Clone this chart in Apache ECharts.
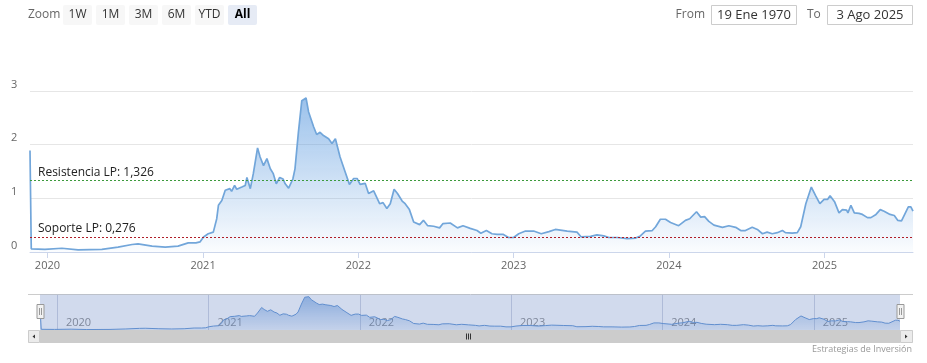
<!DOCTYPE html>
<html><head><meta charset="utf-8">
<script src="https://cdn.jsdelivr.net/npm/echarts@6/dist/echarts.min.js"></script>
<style>html,body{margin:0;padding:0;background:#fff}#c{width:927px;height:363px}</style>
</head><body><div id="c"></div>
<script>
const dates = [
'2019-11-21','2019-11-24','2019-12-26','2020-02-04','2020-03-13','2020-05-08','2020-06-15','2020-07-18','2020-08-01','2020-09-03','2020-10-04','2020-11-03','2020-11-27','2020-12-15',
'2020-12-25','2021-01-02','2021-01-13','2021-01-25','2021-02-02','2021-02-06','2021-02-14','2021-02-22','2021-03-05','2021-03-09','2021-03-16','2021-03-21','2021-04-02','2021-04-10','2021-04-14','2021-04-22','2021-04-29','2021-05-09','2021-05-15','2021-05-23','2021-05-31','2021-06-08','2021-06-15','2021-06-22','2021-06-30','2021-07-08','2021-07-13','2021-07-21','2021-07-31','2021-08-05','2021-08-13','2021-08-21','2021-08-31','2021-09-06','2021-09-18','2021-09-25','2021-10-03','2021-10-11','2021-10-23','2021-10-31','2021-11-08','2021-11-19','2021-12-01','2021-12-11','2021-12-21','2021-12-29','2022-01-05','2022-01-17','2022-01-25',
'2022-02-06','2022-02-20','2022-02-28','2022-03-09','2022-03-17','2022-03-26','2022-04-03','2022-04-14','2022-04-21','2022-05-01','2022-05-11','2022-05-25','2022-06-03','2022-06-13','2022-06-27','2022-07-11','2022-07-19','2022-08-05','2022-08-22','2022-09-04','2022-09-21','2022-10-07','2022-10-16','2022-10-29','2022-11-11','2022-11-23','2022-12-07','2022-12-20','2023-01-01','2023-01-13','2023-01-29','2023-02-17','2023-03-07','2023-03-25','2023-04-09',
'2023-05-07','2023-05-30','2023-06-09','2023-07-01','2023-07-16','2023-08-01','2023-08-13','2023-09-02','2023-09-25','2023-10-15','2023-10-26','2023-11-07','2023-11-23','2023-12-01','2023-12-12','2023-12-24','2024-01-05','2024-01-24','2024-02-09','2024-02-19','2024-03-06','2024-03-16','2024-03-25','2024-04-04','2024-04-16','2024-05-06','2024-05-21','2024-06-06',
'2024-06-18','2024-06-29','2024-07-15','2024-07-27','2024-08-08','2024-08-19','2024-08-31','2024-09-12','2024-09-24','2024-10-01','2024-10-17','2024-10-29','2024-11-06','2024-11-18','2024-12-01','2024-12-11','2024-12-21','2024-12-31','2025-01-08','2025-01-14','2025-01-25','2025-02-04','2025-02-12','2025-02-22','2025-02-25','2025-03-04','2025-03-12','2025-03-23','2025-03-31','2025-04-12','2025-04-20','2025-05-02','2025-05-12','2025-05-21','2025-06-04','2025-06-14','2025-06-22','2025-07-01','2025-07-17','2025-07-23','2025-07-28'];
const values = [
1.89,0.06,0.05,0.07,0.04,0.05,0.09,0.14,0.15,0.11,0.09,0.11,0.17,0.17,
0.19,0.28,0.34,0.37,0.62,0.87,0.96,1.15,1.18,1.13,1.24,1.17,1.21,1.24,1.39,1.18,1.46,1.94,1.77,1.61,1.74,1.55,1.46,1.27,1.39,1.36,1.27,1.19,1.36,1.55,2.23,2.82,2.87,2.61,2.33,2.19,2.23,2.17,2.11,2.02,2.11,1.77,1.49,1.26,1.37,1.37,1.26,1.28,1.09,
1.14,0.90,0.92,0.81,0.90,1.17,1.09,0.95,0.90,0.79,0.56,0.51,0.59,0.49,0.48,0.45,0.53,0.54,0.45,0.49,0.44,0.40,0.35,0.40,0.34,0.33,0.33,0.27,0.27,0.34,0.39,0.39,0.34,0.38,0.42,
0.39,0.37,0.28,0.29,0.32,0.30,0.27,0.27,0.25,0.26,0.30,0.39,0.40,0.47,0.61,0.61,0.55,0.49,0.59,0.62,0.75,0.65,0.66,0.57,0.50,0.46,0.49,0.46,
0.40,0.40,0.46,0.42,0.34,0.37,0.34,0.36,0.40,0.36,0.35,0.36,0.47,0.90,1.21,1.05,0.90,0.98,0.98,1.05,0.93,0.73,0.79,0.78,0.73,0.87,0.73,0.72,0.70,0.64,0.64,0.70,0.79,0.76,0.70,0.68,0.59,0.58,0.84,0.84,0.76];
const yearTicks = ['2020-01-01','2021-01-01','2022-01-01','2023-01-01','2024-01-01','2025-01-01'];
const yMin = 0, yMax = 3, yInterval = 1;
const resistance = 1.326, support = 0.276;
const resistanceLabel = 'Resistencia LP: 1,326';
const supportLabel = 'Soporte LP: 0,276';
const zoomLabel = 'Zoom';
const zoomButtons = ['1W','1M','3M','6M','YTD','All'];
const selectedButton = 'All';
const fromLabel = 'From', toLabel = 'To';
const fromDate = '19 Ene 1970', toDate = '3 Ago 2025';
const credits = 'Estrategias de Inversión';

const FONT = '"Open Sans", sans-serif';
const ts = d => echarts.number.parseDate(d).getTime();
const n = Math.min(dates.length, values.length);
const seriesData = [];
for (let i = 0; i < n; i++) seriesData.push([ts(dates[i]), values[i]]);
const yearTs = yearTicks.map(ts);
const tMin = ts(dates[0]), tMax = ts(dates[n - 1]);
const yearFmt = v => String(new Date(v + 3 * 86400000).getFullYear());

const chart = echarts.init(document.getElementById('c'), null, {renderer: 'canvas'});

const graphics = [];
graphics.push({type:'text', x: 28, y: 15, style:{text: zoomLabel, fill:'#666', font: '12px ' + FONT, verticalAlign:'middle'}});
zoomButtons.forEach((b, i) => {
  const x = 63 + 33 * i, sel = b === selectedButton;
  graphics.push({type:'rect', shape:{x: x, y: 5, width: 29, height: 20, r: 2}, style:{fill: sel ? '#e6ebf5' : '#f7f7f7'}});
  graphics.push({type:'text', x: x + 14.5, y: 15, style:{text: b, fill: sel ? '#000' : '#333', font: (sel ? 'bold ' : '') + '12px ' + FONT, align:'center', verticalAlign:'middle'}});
});
graphics.push({type:'text', x: 705, y: 15, style:{text: fromLabel, fill:'#666', font:'12px ' + FONT, align:'right', verticalAlign:'middle'}});
graphics.push({type:'rect', shape:{x: 711.5, y: 5.5, width: 85, height: 19}, style:{fill:'#fff', stroke:'#cccccc', lineWidth:1}});
graphics.push({type:'text', x: 754, y: 15, style:{text: fromDate, fill:'#333', font:'13px ' + FONT, align:'center', verticalAlign:'middle'}});
graphics.push({type:'text', x: 807, y: 15, style:{text: toLabel, fill:'#666', font:'12px ' + FONT, align:'left', verticalAlign:'middle'}});
graphics.push({type:'rect', shape:{x: 827.5, y: 5.5, width: 85, height: 19}, style:{fill:'#fff', stroke:'#cccccc', lineWidth:1}});
graphics.push({type:'text', x: 870, y: 15, style:{text: toDate, fill:'#333', font:'13px ' + FONT, align:'center', verticalAlign:'middle'}});

graphics.push({type:'line', shape:{x1: 28, y1: 294.5, x2: 913, y2: 294.5}, style:{stroke:'#cccccc', lineWidth:1}, z: 99});
graphics.push({type:'rect', shape:{x: 40, y: 294.5, width: 860, height: 35.5}, style:{fill:'rgba(102,133,194,0.3)'}, z: 100});
graphics.push({type:'rect', shape:{x: 28, y: 330, width: 885, height: 13}, style:{fill:'#f2f2f2'}, z: 100});
graphics.push({type:'rect', shape:{x: 40, y: 330, width: 860, height: 13}, style:{fill:'#cccccc'}, z: 101});
graphics.push({type:'rect', shape:{x: 28.5, y: 330.5, width: 11, height: 12}, style:{fill:'#ebebeb', stroke:'#cccccc'}, z: 101});
graphics.push({type:'rect', shape:{x: 900.5, y: 330.5, width: 12, height: 12}, style:{fill:'#ebebeb', stroke:'#cccccc'}, z: 101});
graphics.push({type:'polygon', shape:{points:[[32.5,336.5],[35,334.5],[35,338.5]]}, style:{fill:'#333'}, z: 102});
graphics.push({type:'polygon', shape:{points:[[907.5,336.5],[905,334.5],[905,338.5]]}, style:{fill:'#333'}, z: 102});
[466.5, 468.5, 470.5].forEach(x => graphics.push({type:'line', shape:{x1:x, y1:333.5, x2:x, y2:339.5}, style:{stroke:'#333', lineWidth:1}, z: 102}));
[40.5, 900.5].forEach(cx => {
  graphics.push({type:'rect', shape:{x: cx - 3.5, y: 304.5, width: 7, height: 14}, style:{fill:'#f2f2f2', stroke:'#999', lineWidth:1}, z: 103});
  graphics.push({type:'line', shape:{x1: cx - 1, y1: 308, x2: cx - 1, y2: 315}, style:{stroke:'#999', lineWidth:1}, z: 104});
  graphics.push({type:'line', shape:{x1: cx + 1, y1: 308, x2: cx + 1, y2: 315}, style:{stroke:'#999', lineWidth:1}, z: 104});
});
graphics.push({type:'text', x: 912, y: 349, style:{text: credits, fill:'#999', font:'9px ' + FONT, align:'right', verticalAlign:'middle'}});

const markLabel = (txt) => ({show: true, formatter: txt, position: 'insideStartTop', color: '#222', fontSize: 12, fontFamily: FONT, distance: [8, 2]});

chart.setOption({
  animation: false,
  textStyle: {fontFamily: FONT},
  grid: [
    {left: 30, right: 14, top: 91, bottom: 111},
    {left: 40, right: 27, top: 294, height: 36}
  ],
  xAxis: [
    {type:'value', gridIndex:0, min: tMin, max: tMax, scale: true,
     axisLine:{show:true, lineStyle:{color:'#ccd6eb'}},
     axisTick:{show:true, customValues: yearTs, length: 6, lineStyle:{color:'#ccd6eb'}},
     axisLabel:{customValues: yearTs, formatter: yearFmt, color:'#666', fontSize: 11, margin: 8},
     splitLine:{show:false}},
    {type:'value', gridIndex:1, min: tMin, max: tMax, scale: true,
     axisLine:{show:false},
     axisTick:{show:true, inside:true, customValues: yearTs, length: 36, lineStyle:{color:'rgba(60,80,130,0.25)'}},
     axisLabel:{show:true, inside:true, customValues: yearTs, formatter: yearFmt, color:'#888', fontSize: 11, margin: 2, align:'left', padding:[0,0,0,9], verticalAlign:'bottom'},
     splitLine:{show:false}}
  ],
  yAxis: [
    {type:'value', gridIndex:0, min: yMin, max: yMax, interval: yInterval,
     axisLine:{show:false}, axisTick:{show:false},
     axisLabel:{color:'#666', fontSize: 11, align:'left', margin: 19, verticalAlign:'bottom', padding:[0,0,1,0]},
     splitLine:{lineStyle:{color:'#e6e6e6'}}},
    {type:'value', gridIndex:1, min: 0, max: 3.1, show:false, splitLine:{show:false}}
  ],
  series: [
    {type:'line', xAxisIndex:0, yAxisIndex:0, data: seriesData, symbol:'none', z: 3,
     lineStyle:{color:'#72a6da', width: 1.7},
     areaStyle:{color: new echarts.graphic.LinearGradient(0,0,0,1,[{offset:0,color:'rgba(88,152,222,0.85)'},{offset:1,color:'rgba(88,152,222,0.04)'}])},
     markLine:{silent:true, symbol:'none', animation:false,
       data:[
         {yAxis: resistance, lineStyle:{color:'#3c9a3c', type:[2,2], width:1}, label: markLabel(resistanceLabel)},
         {yAxis: support, lineStyle:{color:'#b01e28', type:[2,2], width:1}, label: markLabel(supportLabel)}
       ]}},
    {type:'line', xAxisIndex:1, yAxisIndex:1, data: seriesData, symbol:'none', z: 3,
     lineStyle:{color:'#5f93d3', width: 1},
     areaStyle:{color: new echarts.graphic.LinearGradient(0,0,0,1,[{offset:0,color:'rgba(80,140,215,0.8)'},{offset:1,color:'rgba(80,140,215,0.15)'}])}}
  ],
  graphic: graphics
});
</script></body></html>
